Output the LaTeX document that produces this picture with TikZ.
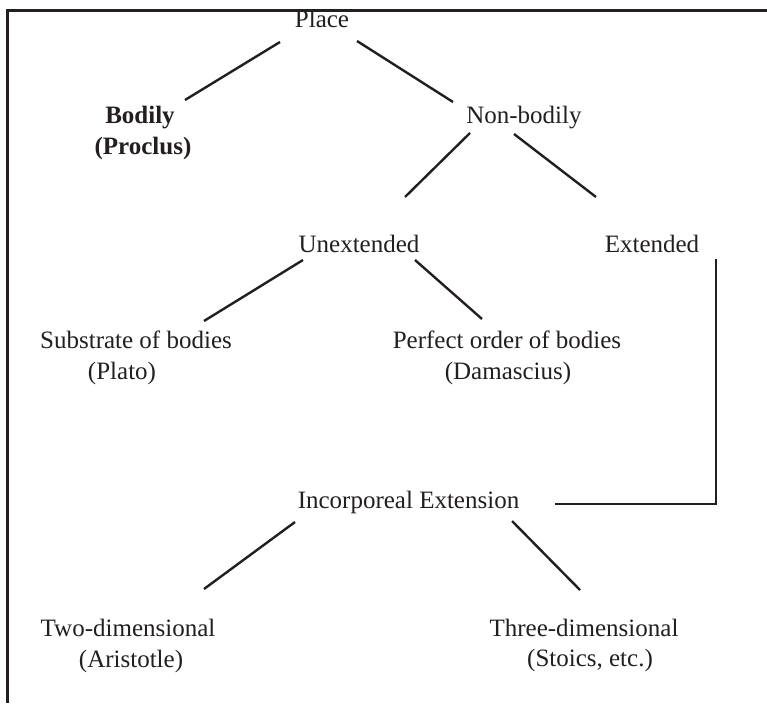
\documentclass[tikz,border=0pt]{standalone}
\usepackage{fontspec}
\setmainfont{Liberation Serif}
\definecolor{ink}{HTML}{231F20}
\begin{document}
\begin{tikzpicture}[x=1pt,y=-1pt,
  lbl/.style={anchor=base,inner sep=0pt,text=ink,font=\fontsize{25}{30}\selectfont},
  blbl/.style={lbl,font=\fontsize{25}{30}\selectfont\bfseries},
  conn/.style={draw=ink,line width=2.4pt},
  framebox/.style={draw=ink,line width=2.8pt,line join=miter}]
\useasboundingbox[fill=white] (0,0) rectangle (767,703);
% frame
\draw[framebox] (767,10.5) -- (7.5,10.5) -- (7.5,703);
% nodes
\node[lbl]  (place) at (322,28)  {Place};
\node[blbl] (bod)   at (140,124) {Bodily};
\node[blbl] (procl) at (143,155) {(Proclus)};
\node[lbl]  (nonb)  at (524,124) {Non-bodily};
\node[lbl]  (unext) at (359,252) {Unextended};
\node[lbl]  (ext)   at (652,252) {Extended};
\node[lbl]  (subs)  at (136,348) {Substrate of bodies};
\node[lbl]  (plato) at (122,379) {(Plato)};
\node[lbl]  (perf)  at (507,348) {Perfect order of bodies};
\node[lbl]  (dam)   at (508,379) {(Damascius)};
\node[lbl]  (inc)   at (408.5,508) {Incorporeal Extension};
\node[lbl]  (two)   at (128,636) {Two-dimensional};
\node[lbl]  (arist) at (131,667) {(Aristotle)};
\node[lbl]  (three) at (584,636) {Three-dimensional};
\node[lbl]  (stoic) at (590,666) {(Stoics, etc.)};
% connectors
\draw[conn] ([xshift=-42pt,yshift=-14pt]place.base) -- ([xshift=45pt,yshift=24pt]bod.base);
\draw[conn] ([xshift=35pt,yshift=-13pt]place.base) -- ([xshift=-71pt,yshift=22pt]nonb.base);
\draw[conn] ([xshift=-54pt,yshift=-9pt]nonb.base) -- ([xshift=46pt,yshift=55pt]unext.base);
\draw[conn] ([xshift=-10pt,yshift=-10pt]nonb.base) -- ([xshift=-56pt,yshift=55pt]ext.base);
\draw[conn] ([xshift=-56pt,yshift=-8pt]unext.base) -- ([xshift=68pt,yshift=27pt]subs.base);
\draw[conn] ([xshift=56pt,yshift=-8pt]unext.base) -- ([xshift=-25pt,yshift=29pt]perf.base);
\draw[conn,line join=miter] ([xshift=64pt,yshift=-7pt]ext.base) |- ([xshift=146.5pt,yshift=4pt]inc.base);
\draw[conn] ([xshift=-113.5pt,yshift=-14pt]inc.base) -- ([xshift=76pt,yshift=47pt]two.base);
\draw[conn] ([xshift=103.5pt,yshift=-13pt]inc.base) -- ([xshift=-4pt,yshift=46pt]three.base);
\end{tikzpicture}
\end{document}
